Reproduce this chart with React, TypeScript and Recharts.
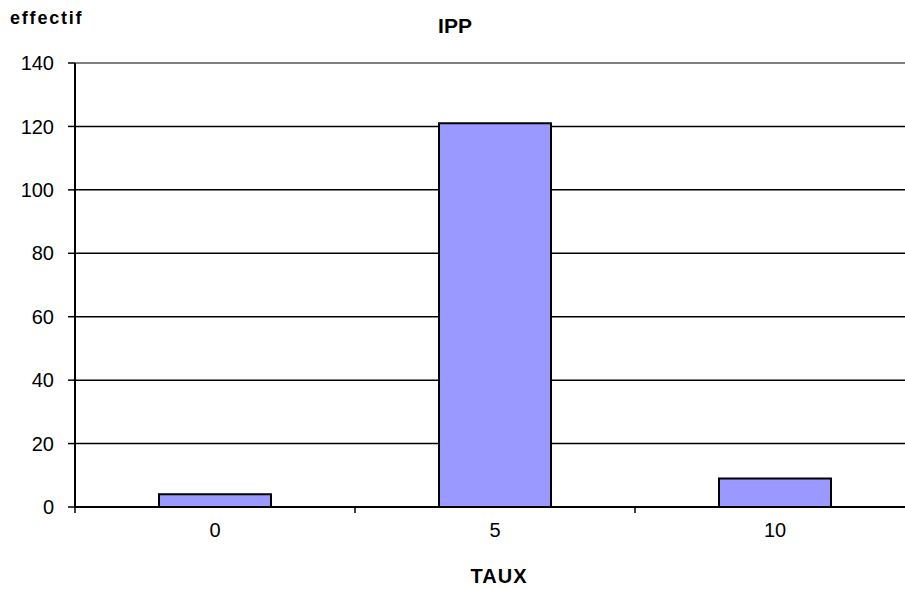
import { Bar, BarChart, CartesianGrid, ReferenceLine, XAxis, YAxis } from "recharts";

const categories = ["0", "5", "10"];
const effectif = [4, 121, 9];
const yTicks = [0, 20, 40, 60, 80, 100, 120, 140];

const data = categories.map((taux, i) => ({ taux, effectif: effectif[i] }));

const FONT = "'Liberation Sans', Arial, sans-serif";
const TICK = { fill: "#000", fontSize: 20, fontFamily: FONT };
const TICK_GAP = 16;

// category label + tick marks on the band edges instead of the centre
function TauxTick(props: any) {
  const { x, y, payload, index, visibleTicksCount } = props;
  const half = payload.offset ?? 0;
  const y0 = y - TICK_GAP;
  const last = index === visibleTicksCount - 1;
  return (
    <g>
      <line x1={x - half} x2={x - half} y1={y0} y2={y0 + 6} stroke="#000" strokeWidth={1.5} />
      {last && <line x1={x + half} x2={x + half} y1={y0} y2={y0 + 6} stroke="#000" strokeWidth={1.5} />}
      <text x={x} y={y} dy="0.71em" textAnchor="middle" {...TICK}>
        {payload.value}
      </text>
    </g>
  );
}

export default function App() {
  return (
    <div style={{ position: "absolute", left: 0, top: 0, width: 905, height: 589, overflow: "hidden", background: "#fff" }}>
      <BarChart
        width={940}
        height={589}
        data={data}
        margin={{ top: 63, right: 25, left: 0, bottom: 52 }}
        barCategoryGap="30%"
      >
        <CartesianGrid horizontal vertical={false} stroke="#000" strokeWidth={1.5} />
        <XAxis
          dataKey="taux"
          tick={TauxTick}
          interval={0}
          tickLine={false}
          tickSize={0}
          tickMargin={TICK_GAP}
          axisLine={{ stroke: "#000", strokeWidth: 2 }}
          height={30}
        />
        <YAxis
          domain={[0, 140]}
          ticks={yTicks}
          interval={0}
          width={75}
          tick={TICK}
          tickSize={7}
          tickMargin={14}
          tickLine={{ stroke: "#000", strokeWidth: 1.5 }}
          axisLine={{ stroke: "#000", strokeWidth: 2 }}
        />
        <ReferenceLine y={140} stroke="#808080" strokeWidth={2} />
        <Bar dataKey="effectif" fill="#9999FF" stroke="#000" strokeWidth={2} isAnimationActive={false} />
      </BarChart>
      <svg width={905} height={589} style={{ position: "absolute", left: 0, top: 0, pointerEvents: "none" }}>
        <text x={10} y={24} fontFamily={FONT} fontWeight="bold" fontSize={18} letterSpacing={1.8}>
          effectif
        </text>
        <text x={455} y={33} textAnchor="middle" fontFamily={FONT} fontWeight="bold" fontSize={21}>
          IPP
        </text>
        <text x={499} y={583} textAnchor="middle" fontFamily={FONT} fontWeight="bold" fontSize={20} letterSpacing={1}>
          TAUX
        </text>
      </svg>
    </div>
  );
}
